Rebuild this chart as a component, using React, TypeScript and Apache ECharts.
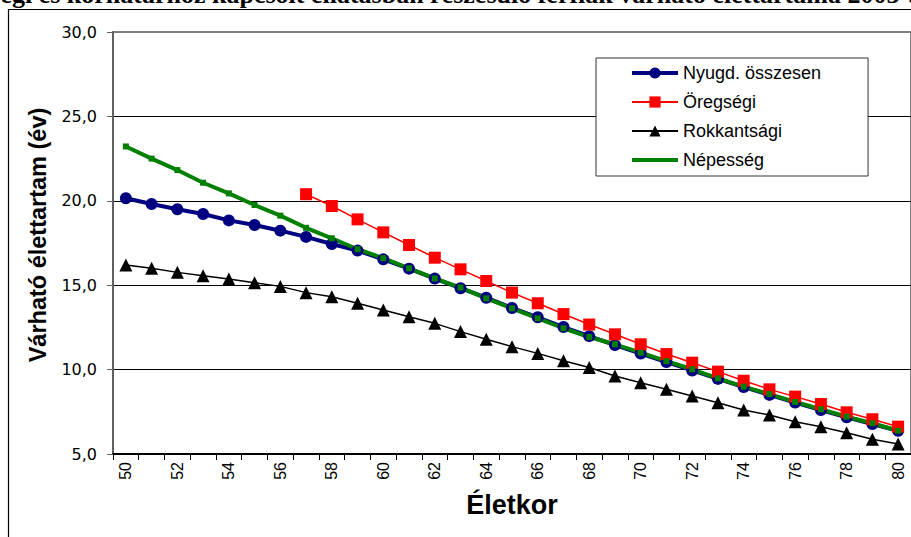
import React, { useEffect, useRef } from "react";
import * as echarts from "echarts";

const ages: string[] = [
  "50","51","52","53","54","55","56","57","58","59","60","61","62","63","64","65",
  "66","67","68","69","70","71","72","73","74","75","76","77","78","79","80",
];

const nyugdOsszesen: number[] = [
  20.15, 19.81, 19.5, 19.22, 18.84, 18.57, 18.23, 17.86, 17.44, 17.05, 16.53,
  15.98, 15.39, 14.82, 14.26, 13.65, 13.1, 12.52, 11.98, 11.45, 10.95, 10.45,
  9.95, 9.45, 8.97, 8.5, 8.05, 7.6, 7.18, 6.78, 6.38,
];

const oregsegi: (number | null)[] = [
  null, null, null, null, null, null, null,
  20.39, 19.69, 18.9, 18.13, 17.38, 16.63, 15.94, 15.25, 14.56, 13.93, 13.29,
  12.67, 12.09, 11.5, 10.92, 10.41, 9.88, 9.34, 8.83, 8.4, 7.96, 7.47, 7.06, 6.62,
];

const rokkantsagi: number[] = [
  16.2, 16.0, 15.76, 15.56, 15.37, 15.15, 14.93, 14.56, 14.32, 13.93, 13.53,
  13.13, 12.74, 12.25, 11.8, 11.36, 10.96, 10.53, 10.12, 9.62, 9.22, 8.83,
  8.44, 8.04, 7.61, 7.31, 6.91, 6.62, 6.26, 5.87, 5.59,
];

const nepesseg: number[] = [
  23.22, 22.5, 21.82, 21.07, 20.44, 19.75, 19.12, 18.4, 17.78, 17.13, 16.6,
  16.0, 15.4, 14.86, 14.22, 13.63, 13.04, 12.45, 11.93, 11.5, 11.0, 10.5,
  10.02, 9.48, 8.99, 8.55, 8.08, 7.65, 7.21, 6.82, 6.38,
];

const seriesNames = ["Nyugd. összesen", "Öregségi", "Rokkantsági", "Népesség"];
const titleText =
  "Öregségi és korhatárhoz kapcsolt ellátásban részesülő férfiak várható élettartama 2003-ban";
const xAxisName = "Életkor";
const yAxisName = "Várható élettartam (év)";

const SANS = '"Liberation Sans", Arial, sans-serif';

export default function App() {
  const ref = useRef<HTMLDivElement>(null);

  useEffect(() => {
    if (!ref.current) return;
    const chart = echarts.init(ref.current, null, { renderer: "svg" });
    chart.setOption({
      animation: false,
      backgroundColor: "#ffffff",
      grid: {
        left: 113,
        top: 32,
        right: -6,
        bottom: 83,
        show: true,
        borderColor: "#808080",
        borderWidth: 2,
        backgroundColor: "transparent",
      },
      graphic: [
        {
          type: "rect",
          shape: { x: 8.5, y: 9.5, width: 1000, height: 1000 },
          style: { fill: "none", stroke: "#000", lineWidth: 1.2 },
          silent: true,
          z: 0,
        },
        {
          type: "text",
          x: 950,
          y: 7.5,
          style: {
            text: titleText,
            font: 'bold 26px "Liberation Serif", "Times New Roman", serif',
            fill: "#000",
            align: "right",
            verticalAlign: "bottom",
          },
          silent: true,
        },
      ],
      legend: {
        orient: "vertical",
        left: 596,
        top: 58,
        padding: [6, 47, 7, 34],
        itemGap: 11,
        itemWidth: 46,
        itemHeight: 14,
        borderColor: "#333",
        borderWidth: 1,
        backgroundColor: "#fff",
        textStyle: { fontFamily: SANS, fontSize: 18, color: "#000" },
        data: [
          { name: seriesNames[0], lineStyle: { width: 4 } },
          seriesNames[1],
          seriesNames[2],
          { name: seriesNames[3], itemStyle: { opacity: 0 }, lineStyle: { width: 4 } },
        ],
      },
      xAxis: {
        type: "category",
        data: ages,
        boundaryGap: true,
        name: xAxisName,
        nameLocation: "middle",
        nameGap: 37,
        nameTextStyle: { fontFamily: SANS, fontSize: 27, fontWeight: "bold", color: "#000" },
        axisLine: { lineStyle: { color: "#000", width: 2 } },
        axisTick: { show: true, interval: 0, length: 6, lineStyle: { color: "#000" } },
        axisLabel: {
          interval: 1,
          rotate: 90,
          margin: 8,
          fontFamily: SANS,
          fontSize: 16,
          color: "#000",
        },
        splitLine: { show: false },
      },
      yAxis: {
        type: "value",
        min: 5,
        max: 30,
        interval: 5,
        name: yAxisName,
        nameLocation: "middle",
        nameGap: 60,
        nameTextStyle: {
          fontFamily: SANS,
          fontSize: 23.5,
          fontWeight: "bold",
          color: "#000",
          padding: [0, 0, 0, 16],
        },
        axisLine: { show: true, lineStyle: { color: "#606060", width: 2 } },
        axisTick: { show: true, length: 6, lineStyle: { color: "#606060" } },
        axisLabel: {
          margin: 16,
          fontFamily: '"DejaVu Sans", sans-serif',
          fontSize: 16,
          color: "#000",
          formatter: (v: number) => v.toFixed(1).replace(".", ","),
        },
        splitLine: {
          show: true,
          lineStyle: {
            color: ["#000", "#000", "#000", "#000", "#000", "#808080"],
            width: 1,
          },
        },
      },
      series: [
        {
          name: seriesNames[0],
          type: "line",
          data: nyugdOsszesen,
          color: "#000080",
          lineStyle: { width: 4, color: "#000080" },
          itemStyle: { color: "#000080" },
          symbol: "circle",
          symbolSize: 12,
        },
        {
          name: seriesNames[1],
          type: "line",
          data: oregsegi,
          color: "#ff0000",
          lineStyle: { width: 1.5, color: "#ff0000" },
          itemStyle: { color: "#ff0000" },
          symbol: "rect",
          symbolSize: 12,
        },
        {
          name: seriesNames[2],
          type: "line",
          data: rokkantsagi,
          color: "#000000",
          lineStyle: { width: 1.5, color: "#000000" },
          itemStyle: { color: "#000000" },
          symbol: "triangle",
          symbolSize: 13,
        },
        {
          name: seriesNames[3],
          type: "line",
          data: nepesseg,
          color: "#008000",
          lineStyle: { width: 4, color: "#008000" },
          itemStyle: { color: "#008000" },
          symbol: "rect",
          symbolSize: 6,
        },
      ],
    });
    return () => chart.dispose();
  }, []);

  return (
    <div
      ref={ref}
      style={{ position: "absolute", left: 0, top: 0, width: 911, height: 537 }}
    />
  );
}
